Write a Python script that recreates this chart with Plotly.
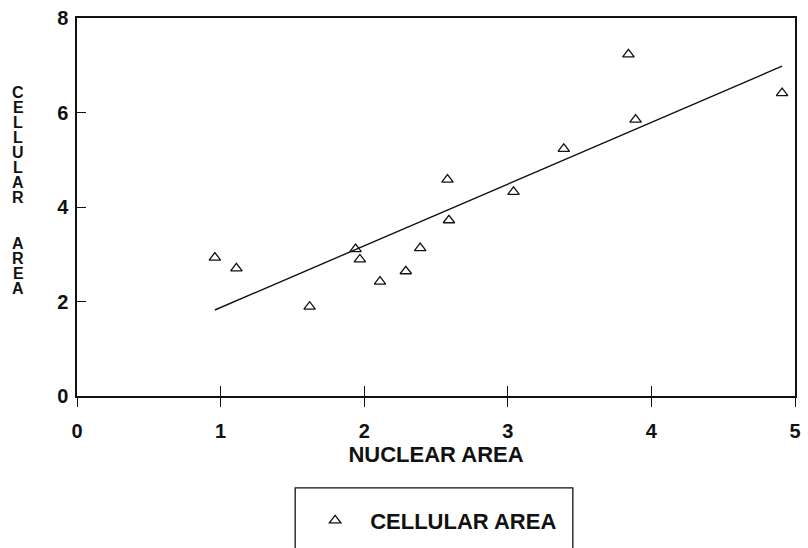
import plotly.graph_objects as go

# ---- data ----
nuclear_area = [0.96, 1.11, 1.62, 1.94, 1.97, 2.11, 2.29, 2.39, 2.58, 2.59, 3.04, 3.39, 3.84, 3.89, 4.91]
cellular_area = [2.93, 2.70, 1.89, 3.11, 2.89, 2.42, 2.64, 3.13, 4.58, 3.72, 4.32, 5.23, 7.23, 5.85, 6.41]
fit_x = [0.96, 4.91]
fit_y = [1.82, 6.98]
x_ticks = [0, 1, 2, 3, 4, 5]
y_ticks = [0, 2, 4, 6, 8]
x_title = "NUCLEAR AREA"
y_title = "CELLULAR  AREA"
series_name = "CELLULAR AREA"

W, H = 808, 548
L, R, T, B = 77, 7, 14, 151
PW, PH = W - L - R, H - T - B

def px_x(px):
    return (px - L) / PW

def px_y(py):
    return (H - B - py) / PH

FONT = "Liberation Sans, Arial, Helvetica, sans-serif"
INK = "#111111"

fig = go.Figure()
fig.add_trace(go.Scatter(
    x=fit_x, y=fit_y, mode="lines",
    line=dict(color=INK, width=1.4), showlegend=False, hoverinfo="skip"))
fig.add_trace(go.Scatter(
    x=nuclear_area, y=cellular_area, mode="markers", name=series_name,
    marker=dict(symbol="triangle-up-open", size=10, color=INK, line=dict(width=1.3, color=INK))))

# invisible trace on overlay axis for the inner half of the x ticks
fig.add_trace(go.Scatter(x=[0, 5], y=[0, 8], xaxis="x2", mode="markers",
                         marker=dict(opacity=0), showlegend=False, hoverinfo="skip"))

fig.update_layout(
    width=W, height=H,
    margin=dict(l=L, r=R, t=T, b=B),
    paper_bgcolor="white", plot_bgcolor="white",
    font=dict(family=FONT, color=INK, size=20, weight="bold"),
    xaxis=dict(
        range=[0, 5], tickvals=x_ticks, ticktext=[str(v) for v in x_ticks],
        ticks="outside", ticklen=9, tickwidth=1.3, tickcolor=INK,
        showline=True, linecolor=INK, linewidth=1.5, mirror=True,
        showgrid=False, zeroline=False, ticklabelstandoff=7,
        tickfont=dict(size=20, family=FONT, weight="bold", color=INK),
        title=dict(text=x_title, standoff=6,
                   font=dict(size=22, family=FONT, weight="bold", color=INK)),
    ),
    xaxis2=dict(
        range=[0, 5], overlaying="x", side="bottom", tickvals=x_ticks[1:-1],
        ticks="inside", ticklen=10, tickwidth=1.3, tickcolor=INK,
        showticklabels=False, showline=False, showgrid=False, zeroline=False,
    ),
    yaxis=dict(
        range=[0, 8], tickvals=y_ticks, ticktext=[str(v) for v in y_ticks],
        ticks="inside", ticklen=9, tickwidth=1.3, tickcolor=INK,
        showline=True, linecolor=INK, linewidth=1.5, mirror=True,
        showgrid=False, zeroline=False, ticklabelstandoff=3,
        tickfont=dict(size=20, family=FONT, weight="bold", color=INK),
    ),
    legend=dict(
        x=px_x(302), y=px_y(502), xanchor="left", yanchor="top",
        bgcolor="rgba(0,0,0,0)", borderwidth=0,
        font=dict(size=22, family=FONT, weight="bold", color=INK),
        itemwidth=60,
    ),
    showlegend=True,
)

# legend frame
fig.add_shape(type="rect", xref="paper", yref="paper",
              x0=px_x(297), x1=px_x(577), y0=px_y(490), y1=px_y(560),
              line=dict(color=INK, width=1.3), fillcolor="rgba(0,0,0,0)")

# vertical stacked y-axis title (one upright letter per line)
for i, ch in enumerate(y_title):
    if ch == " ":
        continue
    fig.add_annotation(text=ch, xref="paper", yref="paper",
                       x=px_x(18), y=px_y(89 + i * 15.3),
                       xanchor="center", yanchor="middle", showarrow=False,
                       height=15, borderpad=0, valign="middle",
                       font=dict(size=16, family=FONT, weight="bold", color=INK))

fig.write_html("out.html")
